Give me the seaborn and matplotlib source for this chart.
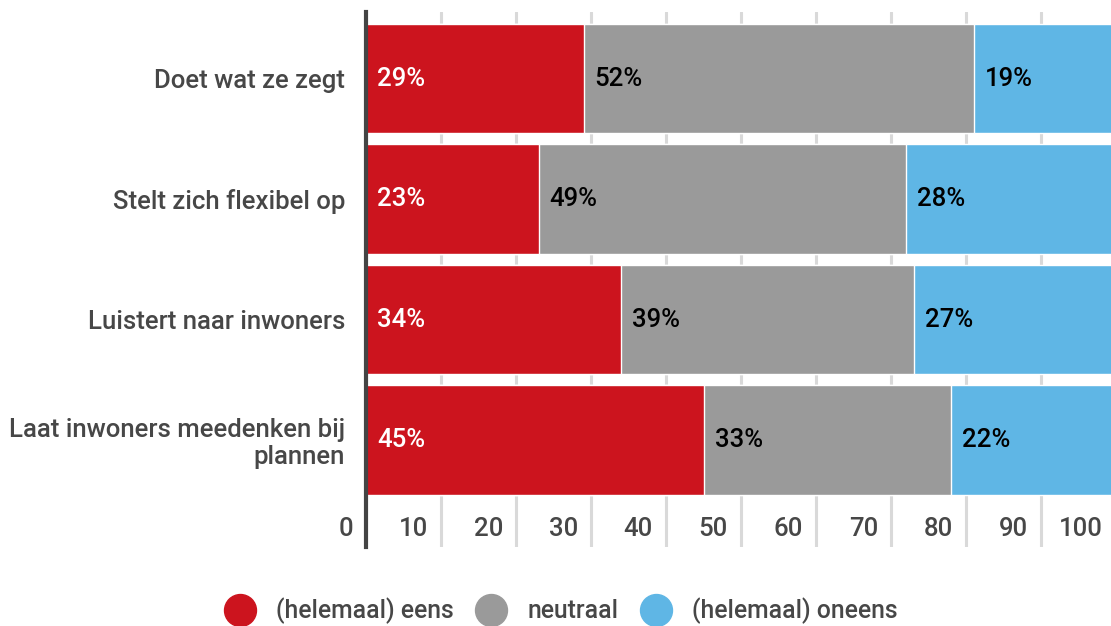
import numpy as np
import pandas as pd
import matplotlib
matplotlib.use('Agg')
import matplotlib.pyplot as plt
import matplotlib.transforms as mtransforms
from matplotlib.lines import Line2D
import seaborn as sns

# Chart data
categories = ['Doet wat ze zegt', 'Stelt zich flexibel op', 'Luistert naar inwoners',
              'Laat inwoners meedenken bij\nplannen']
eens = [29, 23, 34, 45]
neutraal = [52, 49, 39, 33]
oneens = [19, 28, 27, 22]
series_names = ['(helemaal) eens', 'neutraal', '(helemaal) oneens']
x_ticks = [0, 10, 20, 30, 40, 50, 60, 70, 80, 90, 100]

colors = ['#cc141e', '#9a9a9a', '#5fb6e5']
text_color = '#474747'
fs = 18.5

sns.set_style('white')
plt.rcParams['font.family'] = ['Roboto', 'DejaVu Sans']
plt.rcParams['font.weight'] = 'medium'

df = pd.DataFrame({'category': categories, 'eens': eens,
                   'neutraal': neutraal, 'oneens': oneens})
df['cum1'] = df['eens']
df['cum2'] = df['eens'] + df['neutraal']
df['cum3'] = df['cum2'] + df['oneens']

fig = plt.figure(figsize=(11.11, 6.26), dpi=100)
ax = fig.add_axes([366 / 1111, 1 - 547 / 626, 750 / 1111, 535 / 626])

# gridlines first, then bars on top
for t in x_ticks[1:]:
    ax.axvline(t, color='#d9d9d9', lw=2.2, zorder=0)

# stacked bars: draw cumulative totals from back to front
for col, c in zip(['cum3', 'cum2', 'cum1'], colors[::-1]):
    sns.barplot(data=df, x=col, y='category', orient='h', color=c,
                width=0.905, saturation=1, ax=ax, zorder=2)

ax.set_xlim(0, 100)
ax.set_ylim(3 + 0.888, -0.552)
ax.set_xlabel('')
ax.set_ylabel('')
ax.set_xticks([])
ax.tick_params(axis='y', length=0, pad=15, labelsize=fs, labelcolor=text_color)
for lbl in ax.get_yticklabels():
    lbl.set_linespacing(1.15)
for s in ['top', 'right', 'bottom']:
    ax.spines[s].set_visible(False)
ax.spines['left'].set_color('#444444')
ax.spines['left'].set_linewidth(3)
ax.spines['left'].set_zorder(5)

# x tick labels sit inside the plot area, right aligned left of each gridline
tick_tr = mtransforms.blended_transform_factory(ax.transData, ax.transAxes) + \
    mtransforms.ScaledTranslation(-13 / 100, 0, fig.dpi_scale_trans)
for t in x_ticks:
    ax.text(t, 0.034, str(t), transform=tick_tr, ha='right', va='center',
            fontsize=fs, color=text_color)

# percentage labels at the start of each segment
lab_tr = ax.transData + mtransforms.ScaledTranslation(11 / 100, 0, fig.dpi_scale_trans)
starts = [np.zeros(len(df)), df['cum1'].values, df['cum2'].values]
vals = [eens, neutraal, oneens]
txt_colors = ['white', 'black', 'black']
for st, v, tc in zip(starts, vals, txt_colors):
    for i in range(len(df)):
        ax.text(st[i], i, f'{v[i]}%', transform=lab_tr, ha='left', va='center',
                fontsize=fs, color=tc, zorder=6)

handles = [Line2D([0], [0], marker='o', linestyle='', markersize=23,
                  markerfacecolor=c, markeredgecolor=c) for c in colors]
fig.legend(handles, series_names, loc='center', bbox_to_anchor=(560.5 / 1111, 1 - 611 / 626),
           ncol=3, frameon=False, fontsize=17.8, labelcolor=text_color,
           handletextpad=0.82, columnspacing=0.86, handlelength=1.3)

fig.savefig('out.png', dpi=100)
